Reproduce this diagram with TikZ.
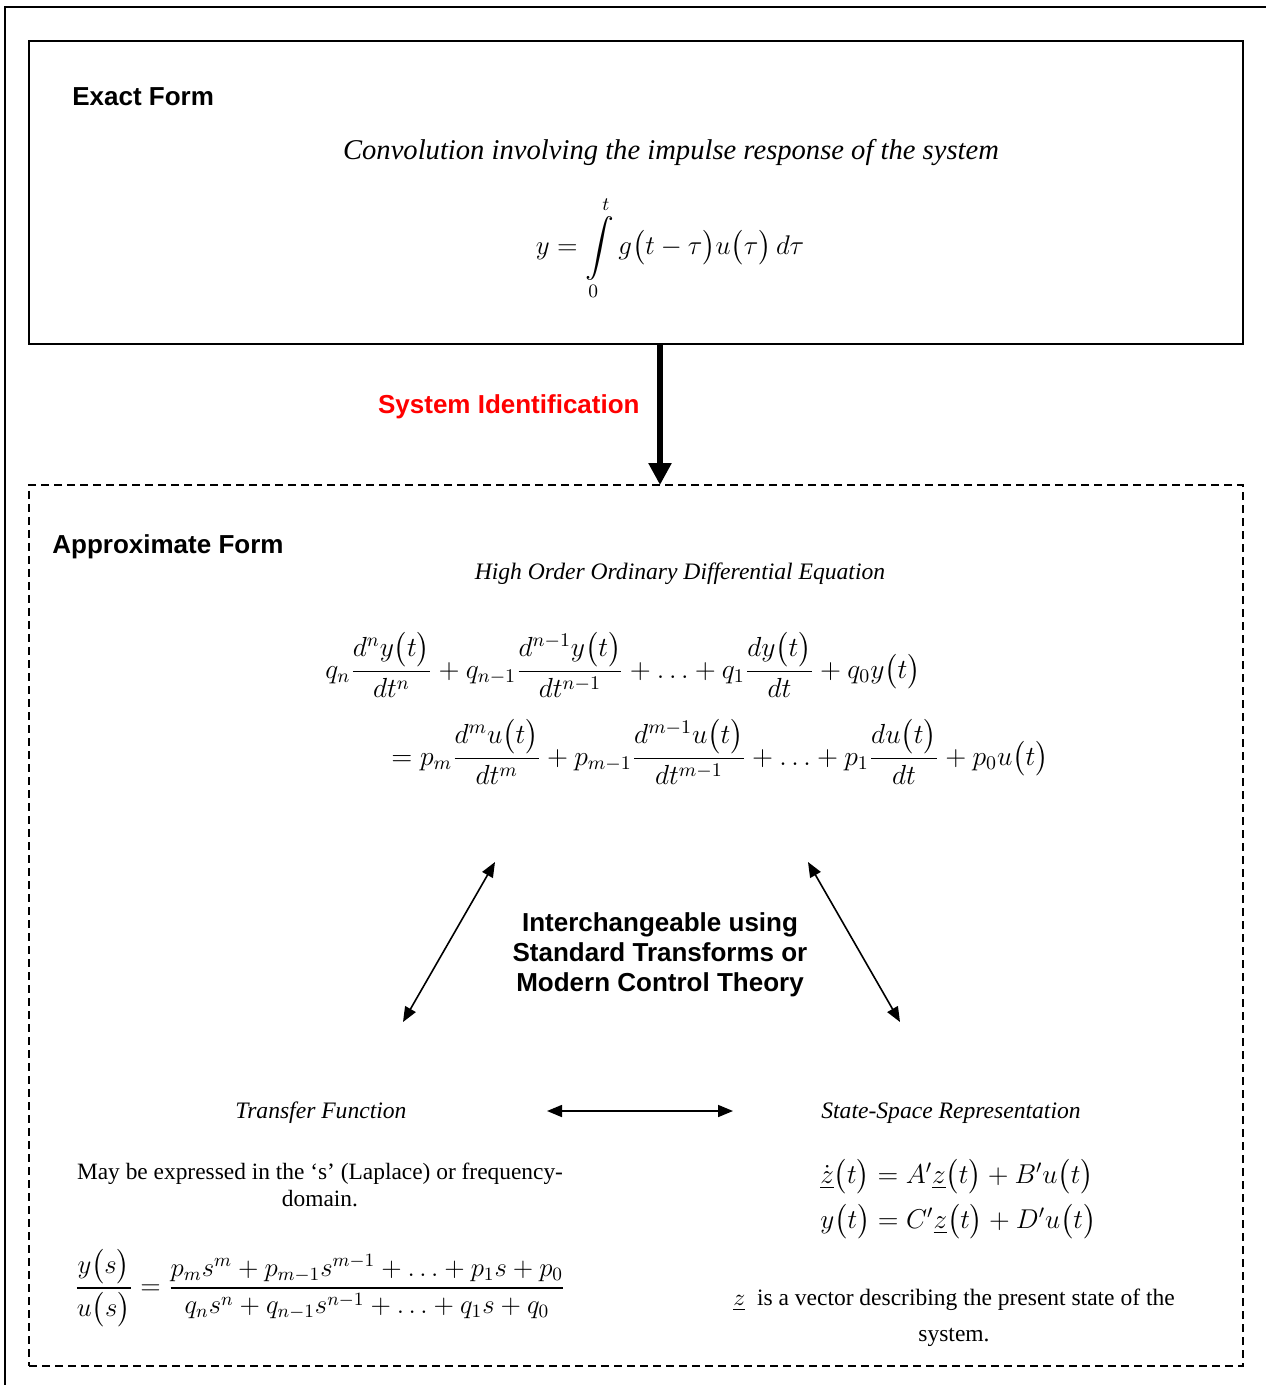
\RequirePackage{fix-cm}
\documentclass[tikz,border=0pt]{standalone}
\usepackage{amsmath}
\usepackage{fontspec}
\setmainfont{Liberation Serif}
\setsansfont{Liberation Sans}
\usepackage{xcolor}
\usepackage{tikz}
\usetikzlibrary{arrows.meta, positioning}

\newcommand{\inpar}[1]{\bigl(#1\bigr)}

\begin{document}
\begin{tikzpicture}[x=0.5pt, y=-0.5pt,
    heading/.style={font=\sffamily\bfseries\fontsize{13}{15}\selectfont, inner sep=0pt},
    caption/.style={font=\itshape\fontsize{11.8}{14}\selectfont},
    body/.style={font=\fontsize{11.7}{13.5}\selectfont, align=center},
    eqn/.style={font=\fontsize{13.8}{17}\selectfont},
    link/.style={{Triangle[length=7.5pt,width=6pt]}-{Triangle[length=7.5pt,width=6pt]}, line width=0.8pt}]
    \useasboundingbox (0,0) rectangle (1266,1385);

    % outer frame
    \draw[line width=1pt] (5,1385) -- (5,7) -- (1266,7);

    % Exact form
    \node[draw, line width=0.8pt, inner sep=0pt, outer sep=0pt, minimum width=607pt, minimum height=151.5pt] (exact) at (636,192.5) {};
    \node[heading, anchor=west] (exactlbl) at (72,97) {Exact Form};
    \node[caption, font=\itshape\fontsize{14.3}{16}\selectfont] (conv) at (671,153) {Convolution involving the impulse response of the system};
    \node[eqn, font=\fontsize{13.5}{17}\selectfont] (conveq) at (670,248) {$\displaystyle y=\int\limits_0^t g\inpar{t-\tau}u\inpar{\tau}\,d\tau$};

    % Approximate form
    \node[draw, dashed, dash pattern=on 4pt off 2.5pt, line width=0.8pt, inner sep=0pt, outer sep=0pt, minimum width=607pt, minimum height=440.5pt] (approx) at (636,925.5) {};
    \node[heading, anchor=west] (approxlbl) at (52,547) {Approximate Form};

    % Identification arrow
    \draw[line width=2.7pt, -{Triangle[length=11pt,width=11pt]}] ([xshift=12pt]exact.south) -- ([xshift=12pt]approx.north);
    \node[heading, anchor=east, text=red] (sysid) at (640,407) {System Identification};

    \node[caption] (odelbl) at (680,574) {High Order Ordinary Differential Equation};
    \node[eqn] (ode1) at (623,665) {$\displaystyle q_n\frac{d^n y\inpar{t}}{dt^n}+q_{n-1}\frac{d^{n-1}y\inpar{t}}{dt^{n-1}}+\ldots+q_1\frac{dy\inpar{t}}{dt}+q_0y\inpar{t}$};
    \node[eqn] (ode2) at (720,752) {$\displaystyle =p_m\frac{d^m u\inpar{t}}{dt^m}+p_{m-1}\frac{d^{m-1}u\inpar{t}}{dt^{m-1}}+\ldots+p_1\frac{du\inpar{t}}{dt}+p_0u\inpar{t}$};

    % Transforms
    \node[heading, align=center] (mid) at (660,955) {Interchangeable using\\Standard Transforms or\\Modern Control Theory};
    \coordinate (l1) at (495,862);
    \coordinate (l2) at (403,1022);
    \coordinate (r1) at (808,862);
    \coordinate (r2) at (900,1022);
    \coordinate (h1) at (547,1111);
    \coordinate (h2) at (733,1111);
    \draw[link] (l1) -- (l2);
    \draw[link] (r1) -- (r2);
    \draw[link] (h1) -- (h2);

    % Transfer function
    \node[caption] (tflbl) at (321,1113) {Transfer Function};
    \node[body] (tfnote) at (320,1185) {May be expressed in the ‘s’ (Laplace) or frequency-\\domain.};
    \node[eqn, font=\fontsize{13.4}{17}\selectfont] (tfeq) at (320,1288) {$\displaystyle \frac{y\inpar{s}}{u\inpar{s}}=\frac{p_ms^m+p_{m-1}s^{m-1}+\ldots+p_1s+p_0}{q_ns^n+q_{n-1}s^{n-1}+\ldots+q_1s+q_0}$};

    % State space
    \node[caption] (sslbl) at (951,1113) {State-Space Representation};
    \node[eqn, anchor=west, align=left, inner sep=0pt, font=\fontsize{13.6}{22.5}\selectfont] (sseq) at (820,1199) {$\dot{\underline{z}}\inpar{t}=A'\underline{z}\inpar{t}+B'u\inpar{t}$\\$y\inpar{t}=C'\underline{z}\inpar{t}+D'u\inpar{t}$};
    \node[body, font=\fontsize{11.75}{18}\selectfont] (ssnote) at (954,1318) {$\underline{z}$\ \ is a vector describing the present state of the\\system.};
\end{tikzpicture}
\end{document}
